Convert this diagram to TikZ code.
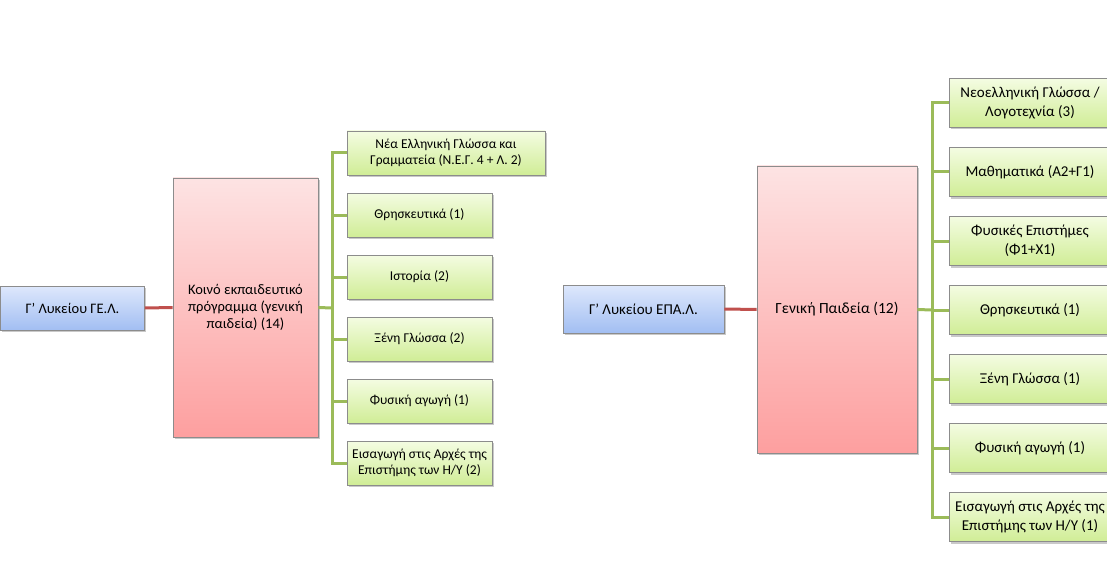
\documentclass[tikz,border=0pt]{standalone}
\usepackage{fontspec}
\setmainfont{Carlito}
\usepackage{tikz}
\usetikzlibrary{shadows}
\definecolor{linered}{HTML}{C0504D}
\definecolor{linegreen}{HTML}{9BBB59}
\definecolor{bluetop}{HTML}{DEE8FC}
\definecolor{bluebot}{HTML}{A2BEF2}
\definecolor{pinktop}{HTML}{FDE3E3}
\definecolor{pinkbot}{HTML}{FD9F9F}
\definecolor{greentop}{HTML}{F4FCE2}
\definecolor{greenbot}{HTML}{D0ED96}
\newcommand{\boxline}{0.6pt}
\newcommand{\linkwidth}{3pt}
\tikzset{
  boxbase/.style={draw=black!45, line width=\boxline, align=center, inner sep=1pt,
    drop shadow={shadow xshift=1.5pt, shadow yshift=-2pt, opacity=0.35, fill=black!60}},
  bluebox/.style={boxbase, top color=bluetop, bottom color=bluebot},
  pinkbox/.style={boxbase, top color=pinktop, bottom color=pinkbot},
  greenbox/.style={boxbase, top color=greentop, bottom color=greenbot},
  redlink/.style={draw=linered, line width=\linkwidth},
  greenlink/.style={draw=linegreen, line width=\linkwidth}
}

\begin{document}
\begin{tikzpicture}[x=1pt, y=-1pt]
\useasboundingbox[fill=white] (0,0) rectangle (1107,572);
%GEL
\node[bluebox, minimum width=144pt, minimum height=44pt, font=\fontsize{14.5}{17}\selectfont] (gel) at (72.5, 308) {Γ' Λυκείου ΓΕ.Λ.};
\node[pinkbox, minimum width=145pt, minimum height=259pt, font=\fontsize{14.5}{17}\selectfont] (koino) at (245.5, 307.5) {Κοινό εκπαιδευτικό\\πρόγραμμα (γενική\\παιδεία) (14)};
\node[greenbox, minimum width=198pt, minimum height=44pt, font=\fontsize{13.5}{16}\selectfont] (l1) at (446, 153) {Νέα Ελληνική Γλώσσα και\\Γραμματεία (Ν.Ε.Γ. 4 + Λ. 2)};
\node[greenbox, minimum width=145pt, minimum height=44pt, font=\fontsize{13.5}{16}\selectfont] (l2) at (419.5, 215) {Θρησκευτικά (1)};
\node[greenbox, minimum width=145pt, minimum height=44pt, font=\fontsize{13.5}{16}\selectfont] (l3) at (419.5, 277) {Ιστορία (2)};
\node[greenbox, minimum width=145pt, minimum height=44pt, font=\fontsize{13.5}{16}\selectfont] (l4) at (419.5, 339) {Ξένη Γλώσσα (2)};
\node[greenbox, minimum width=145pt, minimum height=44pt, font=\fontsize{13.5}{16}\selectfont] (l5) at (419.5, 401) {Φυσική αγωγή (1)};
\node[greenbox, minimum width=145pt, minimum height=44pt, font=\fontsize{13.5}{16}\selectfont] (l6) at (419.5, 463) {Εισαγωγή στις Αρχές της\\Επιστήμης των Η/Υ (2)};
\coordinate (lt) at (332, 308);
\draw[redlink] (gel.east) -- (koino.west);
\draw[greenlink] (koino.east) -- (lt);
\draw[greenlink] (lt) |- (l1.west);
\draw[greenlink] (lt) |- (l2.west);
\draw[greenlink] (lt) |- (l3.west);
\draw[greenlink] (lt) |- (l4.west);
\draw[greenlink] (lt) |- (l5.west);
\draw[greenlink] (lt) |- (l6.west);
%EPAL
\node[bluebox, minimum width=161pt, minimum height=48pt, font=\fontsize{15}{18}\selectfont] (epal) at (643.5, 309) {Γ' Λυκείου ΕΠΑ.Λ.};
\node[pinkbox, minimum width=160pt, minimum height=287pt, font=\fontsize{15.5}{19}\selectfont] (geniki) at (837, 309.5) {Γενική Παιδεία (12)};
\node[greenbox, minimum width=162pt, minimum height=49pt, font=\fontsize{15}{19}\selectfont] (r1) at (1030, 103) {Νεοελληνική Γλώσσα /\\Λογοτεχνία (3)};
\node[greenbox, minimum width=162pt, minimum height=49pt, font=\fontsize{15}{19}\selectfont] (r2) at (1030, 172) {Μαθηματικά (Α2+Γ1)};
\node[greenbox, minimum width=162pt, minimum height=49pt, font=\fontsize{15}{19}\selectfont] (r3) at (1030, 241) {Φυσικές Επιστήμες\\(Φ1+Χ1)};
\node[greenbox, minimum width=162pt, minimum height=49pt, font=\fontsize{15}{19}\selectfont] (r4) at (1030, 310) {Θρησκευτικά (1)};
\node[greenbox, minimum width=162pt, minimum height=49pt, font=\fontsize{15}{19}\selectfont] (r5) at (1030, 379) {Ξένη Γλώσσα (1)};
\node[greenbox, minimum width=162pt, minimum height=49pt, font=\fontsize{15}{19}\selectfont] (r6) at (1030, 448) {Φυσική αγωγή (1)};
\node[greenbox, minimum width=162pt, minimum height=49pt, font=\fontsize{15}{19}\selectfont] (r7) at (1030, 517) {Εισαγωγή στις Αρχές της\\Επιστήμης των Η/Υ (1)};
\coordinate (rt) at (932, 310);
\draw[redlink] (epal.east) -- (geniki.west);
\draw[greenlink] (geniki.east) -- (rt);
\draw[greenlink] (rt) |- (r1.west);
\draw[greenlink] (rt) |- (r2.west);
\draw[greenlink] (rt) |- (r3.west);
\draw[greenlink] (rt) |- (r4.west);
\draw[greenlink] (rt) |- (r5.west);
\draw[greenlink] (rt) |- (r6.west);
\draw[greenlink] (rt) |- (r7.west);
\end{tikzpicture}
\end{document}
